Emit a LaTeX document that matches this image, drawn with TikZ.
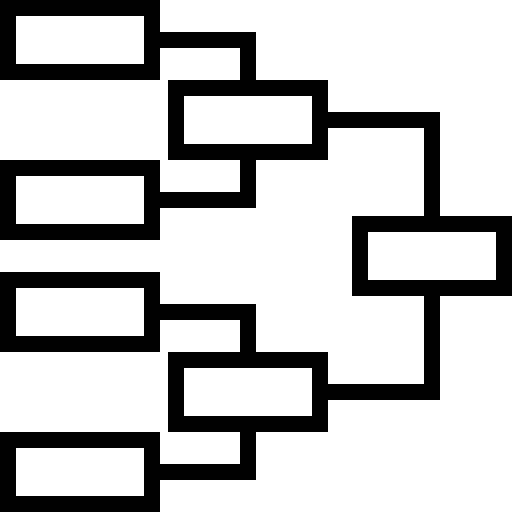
\documentclass[tikz,border=0pt]{standalone}
\usepackage{tikz}
\usetikzlibrary{positioning}

\begin{document}
\begin{tikzpicture}[x=1pt,y=-1pt,
      line width=16pt,
      node distance=160pt,
      on grid,
      match/.style={draw,rectangle,inner sep=0pt,
        minimum width=144pt,minimum height=64pt}]

    \useasboundingbox (0,0) rectangle (512,512);

    \node[match]
      (Seed1) at (80,40) {};
    \node[match]
      (Seed2) [below=of Seed1] {};
    \node[match]
      (Seed3) [below=112pt of Seed2] {};
    \node[match]
      (Seed4) [below=of Seed3] {};
    \node[match]
      (Semi1) at (248,120) {};
    \node[match]
      (Semi2) at (248,392) {};
    \node[match]
      (Final) at (432,256) {};

    \draw (Seed1.east) -| (Semi1.north);
    \draw (Seed2.east) -| (Semi1.south);
    \draw (Seed3.east) -| (Semi2.north);
    \draw (Seed4.east) -| (Semi2.south);
    \draw (Semi1.east) -| (Final.north);
    \draw (Semi2.east) -| (Final.south);

  \end{tikzpicture}
\end{document}
